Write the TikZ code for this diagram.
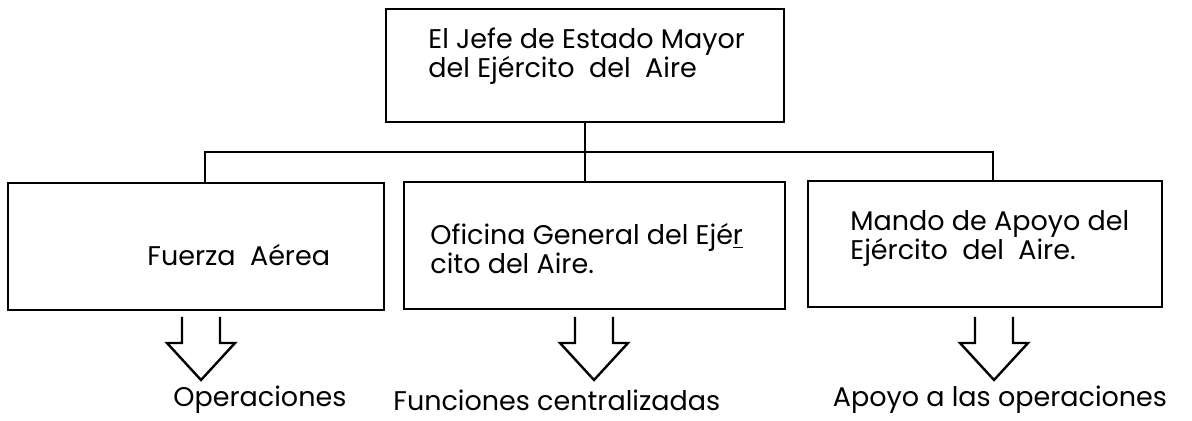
\documentclass[tikz,border=0pt]{standalone}
\usepackage{fontspec}
\setmainfont{Poppins}
\begin{document}
\begin{tikzpicture}[x=0.5pt,y=-0.5pt,
  caja/.style={draw,line width=1.4pt,inner sep=0pt},
  texto/.style={font=\fontsize{13.5}{14.5}\selectfont,align=left,inner sep=0pt},
  linea/.style={line width=1.4pt},
  flecha/.style={line width=1.2pt,line join=miter}]
\useasboundingbox (0,0) rectangle (1192,421);
% cajas
\node[caja,minimum width=199pt,minimum height=56.5pt] (jefe) at (585,65.5) {};
\node[caja,minimum width=188pt,minimum height=63.5pt] (fuerza) at (196,246.5) {};
\node[caja,minimum width=190.5pt,minimum height=63.5pt] (oficina) at (594.5,245.5) {};
\node[caja,minimum width=177pt,minimum height=63pt] (mando) at (985,244) {};
% textos
\node[texto,anchor=west] (jefeT) at (428,56) {El Jefe de Estado Mayor\\del Ejército\ \ del\ \ Aire};
\node[texto,anchor=west] (fuerzaT) at (147,255) {Fuerza\ \ Aérea};
\node[texto,anchor=west] (oficinaT) at (430,249) {Oficina General del Ejé\underline{r}\\cito del Aire.};
\node[texto,anchor=west] (mandoT) at (850,239) {Mando de Apoyo del\\Ejército\ \ del\ \ Aire.};
% lineas
\coordinate (izq) at (205,152);
\coordinate (der) at (993,152);
\draw[linea] (jefe.south) -- (jefe.south |- oficina.north);
\draw[linea] (izq |- fuerza.north) -- (izq) -- (der) -- (der |- mando.north);
% flechas
\foreach \x in {201,594,994}
  \draw[flecha] (\x-19,317) -- (\x-19,343) -- (\x-34,343) -- (\x,380) -- (\x+34,343) -- (\x+19,343) -- (\x+19,317);
\node[texto,anchor=west] (ops) at (173,400) {Operaciones};
\node[texto,anchor=west] (fun) at (393,400) {Funciones centralizadas};
\node[texto] (apo) at (1000,400) {Apoyo a las operaciones};
\end{tikzpicture}
\end{document}
